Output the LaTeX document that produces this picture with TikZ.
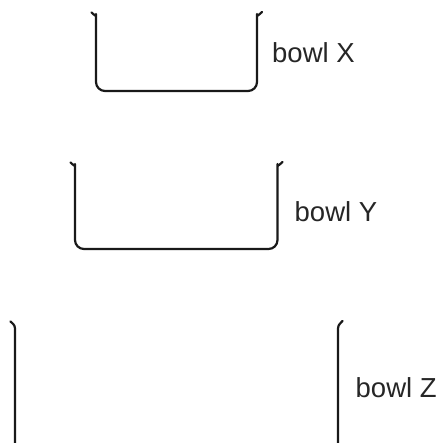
\documentclass[tikz,border=0pt]{standalone}
\usepackage{fontspec}
\setmainfont{Liberation Sans}
\begin{document}
\begin{tikzpicture}[x=1pt,y=-1pt,
  bowlline/.style={line width=2.2pt,line cap=round,line join=round,color=black!90,rounded corners=9pt},
  bowllabel/.style={anchor=base west,inner sep=0pt,font=\fontsize{27.5}{30}\selectfont,text=black!85}]
\useasboundingbox (0,0) rectangle (444,443);
% bowl X
\draw[bowlline] (91.5,12.5) .. controls (96,16.5) .. (96,23) -- (96,91) -- (257,91) -- (257,23) .. controls (257,16.5) .. (262,12);
\node[bowllabel] (lx) at (272,63) {bowl X};
% bowl Y
\draw[bowlline] (70.5,162.5) .. controls (75,166.5) .. (75,173) -- (75,249) -- (277.5,249) -- (277.5,173) .. controls (277.5,166.5) .. (282.5,162);
\node[bowllabel] (ly) at (294.5,222) {bowl Y};
% bowl Z
\draw[bowlline,rounded corners=0pt] (10.5,321.5) .. controls (15,325.5) .. (15,332) -- (15,446);
\draw[bowlline,rounded corners=0pt] (338,446) -- (338,332) .. controls (338,325.5) .. (342.5,321);
\node[bowllabel] (lz) at (355.5,397) {bowl Z};
\end{tikzpicture}
\end{document}
